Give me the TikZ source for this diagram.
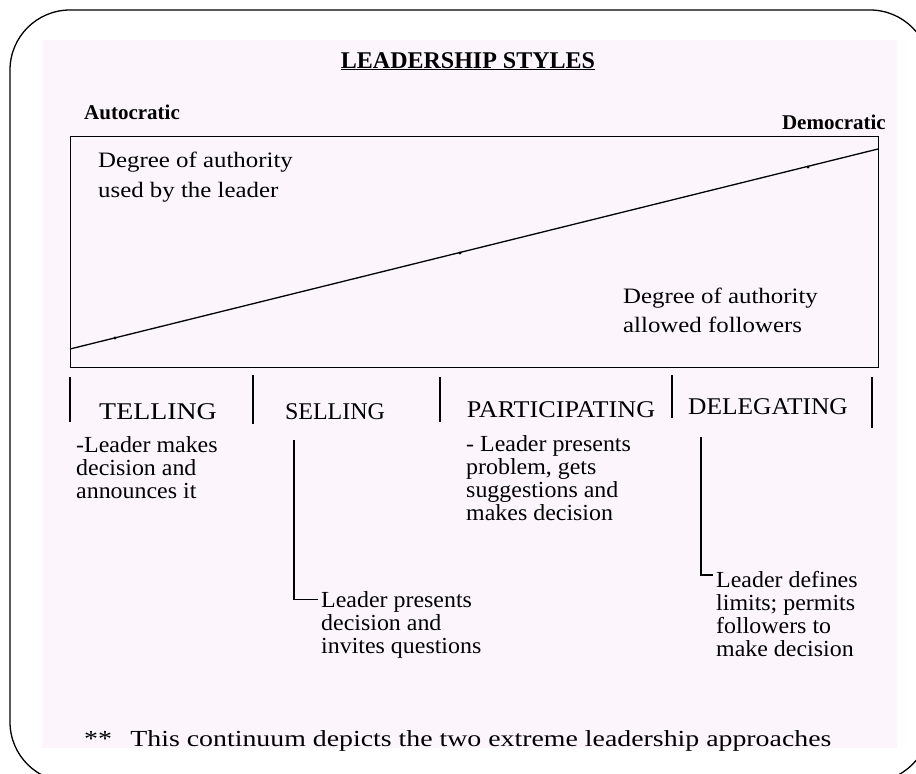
\documentclass[tikz,border=0pt]{standalone}
\usepackage{fontspec}
\usepackage{graphicx}
\setmainfont{Liberation Serif}
\newfontfamily\degf{Liberation Serif}[FakeStretch=1.13]
\newfontfamily\bodyf{Liberation Serif}[FakeStretch=1.04]
\newfontfamily\footf{Liberation Serif}[FakeStretch=1.21]
\definecolor{bgpink}{RGB}{252,246,252}
\begin{document}
\begin{tikzpicture}[x=1pt,y=-1pt,
  lbl/.style={inner sep=0pt, anchor=base west},
  body/.style={lbl, font=\bodyf\fontsize{23}{23}\selectfont},
  sect/.style={inner sep=0pt, anchor=base, font=\fontsize{24}{24}\selectfont},
  deg/.style={lbl, font=\degf\fontsize{22}{22}\selectfont},
  head/.style={inner sep=0pt, font=\bfseries\fontsize{21}{21}\selectfont},
  rule/.style={line width=1.4pt},
  bracket/.style={line width=1.4pt},
  ]
\useasboundingbox (0,0) rectangle (916,774);
\fill[bgpink] (42,40) rectangle (897,748);
\draw[line width=1.3pt, rounded corners=60pt] (10,10) rectangle (930,782);

% titles
\node[inner sep=0pt, anchor=base, font=\bfseries\fontsize{24}{24}\selectfont] (title) at (468,68) {\underline{LEADERSHIP STYLES}};
\node[head, anchor=base west] (auto) at (84,119) {Autocratic};
\node[head, anchor=base east] (demo) at (886,129) {Democratic};

% scale box
\node[draw, rule, inner sep=0pt, minimum width=808pt, minimum height=231pt, anchor=north west] (scalebox) at (70,136) {};
\coordinate (dl) at (70,349);
\coordinate (dr) at (878,149);
\draw[line width=1.3pt] (dl) -- (dr);
\fill (115,338) circle (1.6pt);
\fill (460,253) circle (1.6pt);
\fill (808,167) circle (1.6pt);

\node[deg] (used1) at (98,167) {Degree of authority};
\node[deg] (used2) at (98,197) {used by the leader};
\node[deg] (allow1) at (623,303) {Degree of authority};
\node[deg] (allow2) at (623,332) {allowed followers};

% dividers
\coordinate (d1t) at (70,377);  \coordinate (d1b) at (70,422);
\coordinate (d2t) at (253,375); \coordinate (d2b) at (253,424);
\coordinate (d3t) at (440,377); \coordinate (d3b) at (440,422);
\coordinate (d4t) at (672,375); \coordinate (d4b) at (672,418);
\coordinate (d5t) at (872,377); \coordinate (d5b) at (872,428);
\foreach \i in {1,...,5} \draw[rule] (d\i t) -- (d\i b);

% section labels
\node[sect] (tell) at (158,419) {\scalebox{1.16}[1]{TELLING}};
\node[sect] (sell) at (335,419) {SELLING};
\node[sect] (part) at (561,417) {\scalebox{1.09}[1]{PARTICIPATING}};
\node[sect] (dele) at (768,414) {\scalebox{1.06}[1]{DELEGATING}};

% descriptions
\node[body] (t1) at (76,452) {-Leader makes};
\node[body] (t2) at (76,475) {decision and};
\node[body] (t3) at (76,498) {announces it};

\node[body] (p1) at (466,451) {- Leader presents};
\node[body] (p2) at (466,474) {problem, gets};
\node[body] (p3) at (466,497) {suggestions and};
\node[body] (p4) at (466,520) {makes decision};

\node[body] (s1) at (321,607) {Leader presents};
\node[body] (s2) at (321,630) {decision and};
\node[body] (s3) at (321,653) {invites questions};

\node[body] (g1) at (716,587) {Leader defines};
\node[body] (g2) at (716,610) {limits; permits};
\node[body] (g3) at (716,633) {followers to};
\node[body] (g4) at (716,656) {make decision};

% brackets
\coordinate (sb) at (294,440);
\coordinate (gb) at (701,437);
\draw[bracket] (sb) |- ([xshift=-3pt,yshift=2pt]s1.west);
\draw[bracket] (gb) |- ([xshift=-3pt,yshift=4pt]g1.west);

% footer
\node[lbl, font=\footf\fontsize{23}{23}\selectfont] (foot) at (84,746) {**\hspace{0.8em}This continuum depicts the two extreme leadership approaches};
\end{tikzpicture}
\end{document}
